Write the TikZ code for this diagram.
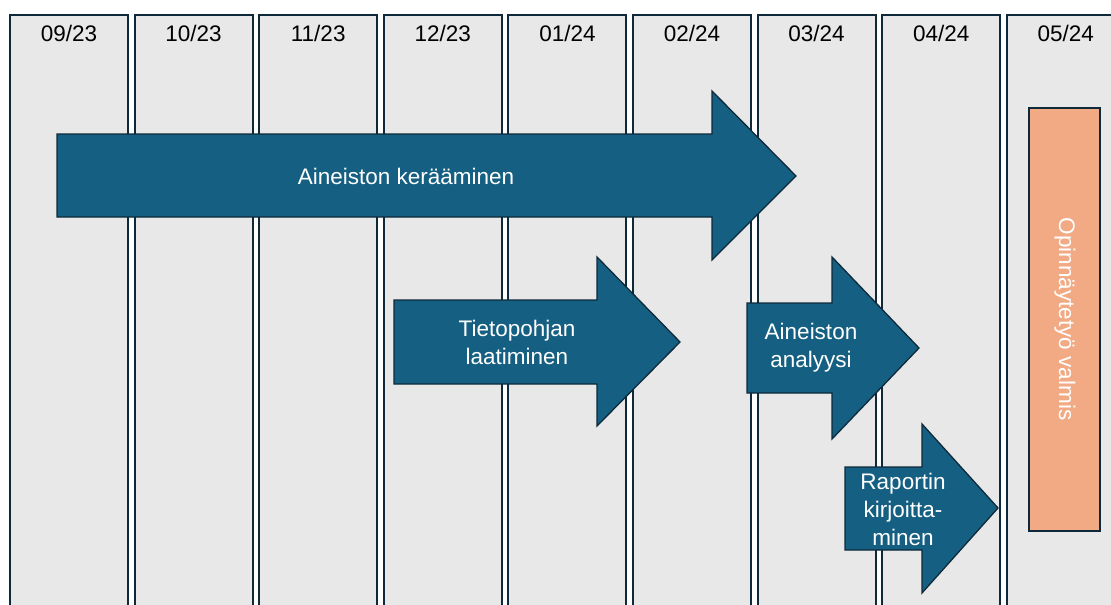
\documentclass[tikz,border=0pt]{standalone}
\usepackage{fontspec}
\setmainfont{Liberation Sans}
\begin{document}
\begin{tikzpicture}[x=1pt,y=-1pt,
  month/.style={fill=monthgray,draw=edgedark,line width=2pt},
  monthlabel/.style={font=\fontsize{22.5}{27}\selectfont,text=black,anchor=center},
  phase/.style={fill=phaseblue,draw=edgedark,line width=1.3pt,line join=miter},
  phaselabel/.style={font=\fontsize{22.5}{28}\selectfont,text=white,align=center,anchor=center},
  done/.style={fill=doneorange,draw=edgedark,line width=2pt},
  donelabel/.style={font=\fontsize{22.5}{27}\selectfont,text=white,rotate=-90,anchor=center}]
\definecolor{monthgray}{HTML}{E8E8E8}
\definecolor{edgedark}{HTML}{0E2A3A}
\definecolor{phaseblue}{HTML}{156082}
\definecolor{doneorange}{HTML}{F1AA84}

\useasboundingbox (0,0) rectangle (1111,605);
\fill[white] (0,0) rectangle (1111,605);
\clip (0,0) rectangle (1111,605);

% month columns
\foreach \m/\lab [count=\i from 0] in {m1/09\slash23,m2/10\slash23,m3/11\slash23,m4/12\slash23,m5/01\slash24,m6/02\slash24,m7/03\slash24,m8/04\slash24,m9/05\slash24}{
  \pgfmathsetmacro{\xl}{10+124.6*\i}
  \draw[month] (\xl,15) rectangle ++(118,640);
  \node[monthlabel] (\m) at (\xl+59,33) {\lab};
}

% phase arrows
\draw[phase] (57,134) -- (712,134) -- (712,91) -- (796,176) -- (712,260) -- (712,217) -- (57,217) -- cycle;
\node[phaselabel] (collect) at (406,176) {Aineiston kerääminen};

\draw[phase] (394,300) -- (597,300) -- (597,257) -- (680,342) -- (597,426) -- (597,384) -- (394,384) -- cycle;
\node[phaselabel] (base) at (517,342) {Tietopohjan\\laatiminen};

\draw[phase] (747,303) -- (832,303) -- (832,257) -- (919,348) -- (832,439) -- (832,393) -- (747,393) -- cycle;
\node[phaselabel] (analysis) at (811,348) {Aineiston\\analyysi};

\draw[phase] (845,467) -- (922,467) -- (922,424) -- (998,508) -- (922,593) -- (922,550) -- (845,550) -- cycle;
\node[phaselabel] (report) at (903,509) {Raportin\\kirjoitta-\\minen};

% completion milestone
\draw[done] (1029,108) rectangle (1100,531);
\node[donelabel] (ready) at (1065,319) {Opinnäytetyö valmis};
\end{tikzpicture}
\end{document}
